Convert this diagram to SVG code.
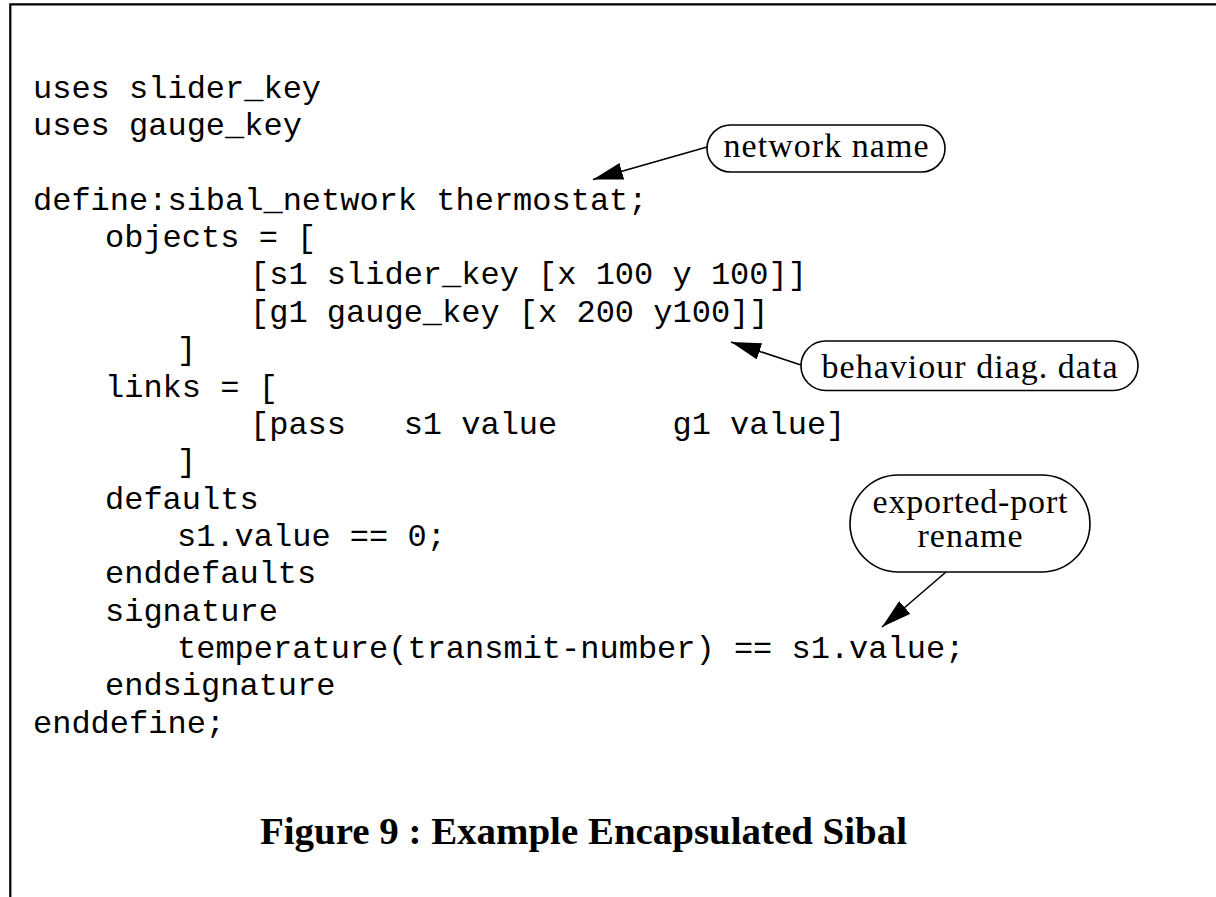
<svg xmlns="http://www.w3.org/2000/svg" width="1216" height="897" viewBox="0 0 1216 897">
  <style>
    .code { font-family: "Liberation Mono", "Courier New", monospace; font-size: 32px; fill: #000; white-space: pre; }
    .lbl { font-family: "Liberation Serif", "Times New Roman", serif; font-size: 34px; fill: #000; text-anchor: middle; }
    .cap { font-family: "Liberation Serif", "Times New Roman", serif; font-size: 38px; font-weight: bold; fill: #000; }
    .pill { fill: #fff; stroke: #000; stroke-width: 1.6; }
    .conn { fill: none; stroke: #000; stroke-width: 1.6; }
    .frame { fill: none; stroke: #000; stroke-width: 2.2; }
  </style>
  <defs>
    <marker id="ah" viewBox="0 0 30 17" refX="30" refY="8.5" markerWidth="30" markerHeight="17" markerUnits="userSpaceOnUse" orient="auto">
      <path d="M0,0 L30,8.5 L0,17 Z" fill="#000"/>
    </marker>
  </defs>
  <rect width="1216" height="897" fill="#fff"/>
  <path class="frame" d="M10.3,897 L10.3,4.4 L1216,4.4"/>

  <g id="code">
    <text class="code" x="33" y="97.5">uses slider_key</text>
    <text class="code" x="33" y="135">uses gauge_key</text>
    <text class="code" x="33" y="209.7">define:sibal_network thermostat;</text>
    <text class="code" x="105" y="247.1">objects = [</text>
    <text class="code" x="250" y="284.4">[s1 slider_key [x 100 y 100]]</text>
    <text class="code" x="250" y="321.8">[g1 gauge_key [x 200 y100]]</text>
    <text class="code" x="177" y="359.2">]</text>
    <text class="code" x="105" y="396.5">links = [</text>
    <text class="code" x="250" y="433.9" xml:space="preserve">[pass   s1 value      g1 value]</text>
    <text class="code" x="177" y="471.2">]</text>
    <text class="code" x="105" y="508.6">defaults</text>
    <text class="code" x="177" y="546">s1.value == 0;</text>
    <text class="code" x="105" y="583.3">enddefaults</text>
    <text class="code" x="105" y="620.7">signature</text>
    <text class="code" x="177" y="658">temperature(transmit-number) == s1.value;</text>
    <text class="code" x="105" y="695.4">endsignature</text>
    <text class="code" x="33" y="732.8">enddefine;</text>
  </g>

  <g id="connectors">
    <line class="conn" x1="707" y1="147" x2="593" y2="179.5" marker-end="url(#ah)"/>
    <line class="conn" x1="801" y1="365" x2="731" y2="342" marker-end="url(#ah)"/>
    <line class="conn" x1="946" y1="572" x2="882" y2="627" marker-end="url(#ah)"/>
  </g>

  <g id="network-name">
    <rect class="pill" x="707" y="125" width="238" height="47" rx="23.5" ry="23.5"/>
    <text class="lbl" x="826" y="157" textLength="205" lengthAdjust="spacing">network name</text>
  </g>

  <g id="behaviour-diag-data">
    <rect class="pill" x="801" y="341" width="337" height="49.5" rx="24.7" ry="24.7"/>
    <text class="lbl" x="969.5" y="377.5" textLength="296" lengthAdjust="spacing">behaviour diag. data</text>
  </g>

  <g id="exported-port-rename">
    <rect class="pill" x="850" y="475" width="240" height="97" rx="48.5" ry="48.5"/>
    <text class="lbl" x="970" y="513" textLength="195" lengthAdjust="spacing">exported-port</text>
    <text class="lbl" x="970" y="547" textLength="105" lengthAdjust="spacing">rename</text>
  </g>

  <text class="cap" x="260" y="844" textLength="647" lengthAdjust="spacingAndGlyphs">Figure 9 : Example Encapsulated Sibal</text>
</svg>
